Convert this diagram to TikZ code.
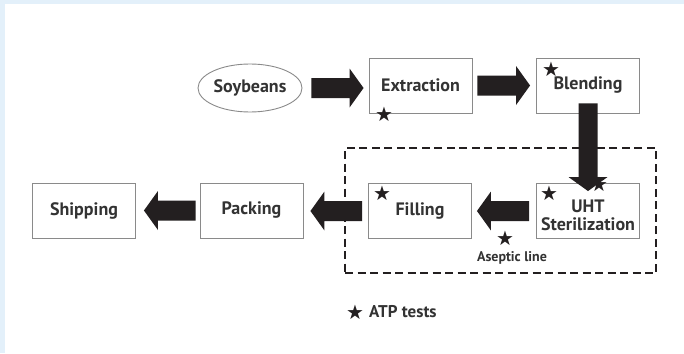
\documentclass[tikz,border=0pt]{standalone}
\usepackage{fontspec}
\setmainfont{PT Sans}
\newfontfamily\symfont{DejaVu Sans}
\usetikzlibrary{calc,shapes.geometric}
\definecolor{txt}{HTML}{333333}
\definecolor{arr}{HTML}{231F20}
\definecolor{bord}{HTML}{8A8A8A}
\definecolor{frame}{HTML}{E3F0FA}
\tikzset{
  stage/.style={draw=bord, line width=0.9pt, fill=white, minimum width=103pt, minimum height=55pt,
    inner sep=0pt, font=\fontsize{18}{18}\selectfont\bfseries, text=txt, align=center},
  arrowfill/.style={fill=arr},
  staricon/.style={inner sep=0pt, font=\symfont\fontsize{20}{20}\selectfont, text=arr},
  aseptic/.style={draw=arr, line width=1.8pt, dash pattern=on 8pt off 4.5pt},
}
% horizontal block arrow from #1 to #2 (tip at #2)
\newcommand\hblock[2]{%
  \fill[arrowfill] let \p1=(#1), \p2=(#2), \n1={sign(\x2-\x1)} in
    (\x1,\y1+10pt) -- ({\x2-\n1*14pt},\y1+10pt) -- ({\x2-\n1*14pt},\y1+19.5pt) -- (\x2,\y1)
    -- ({\x2-\n1*14pt},\y1-19.5pt) -- ({\x2-\n1*14pt},\y1-10pt) -- (\x1,\y1-10pt) -- cycle;}
% vertical (downward) block arrow from #1 to #2
\newcommand\vblock[2]{%
  \fill[arrowfill] let \p1=(#1), \p2=(#2) in
    (\x1-9.5pt,\y1) -- (\x1-9.5pt,\y2+14pt) -- (\x1-19.5pt,\y2+14pt) -- (\x1,\y2)
    -- (\x1+19.5pt,\y2+14pt) -- (\x1+9.5pt,\y2+14pt) -- (\x1+9.5pt,\y1) -- cycle;}
\begin{document}
\begin{tikzpicture}[x=1pt,y=-1pt]
\useasboundingbox (0,0) rectangle (684,353);
\fill[frame] (0,0) rectangle (684,353);
\fill[white] (4.5,4.5) rectangle (684,353);

% dashed aseptic region
\node[aseptic, minimum width=311pt, minimum height=125pt, inner sep=0pt] (asep) at (500.5,210.5) {};

\node[ellipse, draw=bord, line width=0.9pt, minimum width=104pt, minimum height=48pt, inner sep=0pt,
  font=\fontsize{18}{19}\selectfont\bfseries, text=txt] (soy) at (250,88) {Soybeans};
\node[stage] (ext) at (420.5,85.5) {Extraction};
\node[stage] (blend) at (588,85.5) {\raisebox{-5.5pt}{Blending}};
\node[stage] (uht) at (588,211) {};
\node[font=\fontsize{18}{18}\selectfont\bfseries, text=txt, align=center, inner sep=0pt] (uhtlabel) at ([yshift=-4.5pt]uht.center) {UHT\\Sterilization};
\node[stage] (fill) at (420,211) {Filling};
\node[stage] (pack) at (251.5,210.5) {Packing};
\node[stage] (ship) at (84,210.5) {Shipping};

\hblock{$(soy.east)+(9pt,0)$}{$(ext.west)+(-5pt,0)$}
\hblock{$(ext.east)+(5pt,0)$}{$(blend.west)+(-6pt,0)$}
\vblock{$(blend.south)+(0,10pt)$}{$(uht.north)+(0,-8pt)$}
\hblock{$(uht.west)+(-7pt,0)$}{$(fill.east)+(5pt,0)$}
\hblock{$(fill.west)+(-6pt,0)$}{$(pack.east)+(7pt,0)$}
\hblock{$(pack.west)+(-4pt,0)$}{$(ship.east)+(8pt,0)$}

% ATP test stars
\node[staricon] (s1) at (384,114) {★};
\node[staricon] (s2) at (551,69.5) {★};
\node[staricon] (s3) at (549,193) {★};
\node[staricon] (s4) at (599,184) {★};
\node[staricon] (s5) at (382,193) {★};
\node[staricon] (s6) at (505,238) {★};

\node[font=\fontsize{14}{16}\selectfont\bfseries, text=txt] (asl) at (512,258) {Aseptic line};

\node[staricon] (ls) at (355,312) {★};
\node[anchor=west, font=\fontsize{17}{18}\selectfont\bfseries, text=txt, inner sep=0pt] (atp) at (369,312) {ATP tests};
\end{tikzpicture}
\end{document}
